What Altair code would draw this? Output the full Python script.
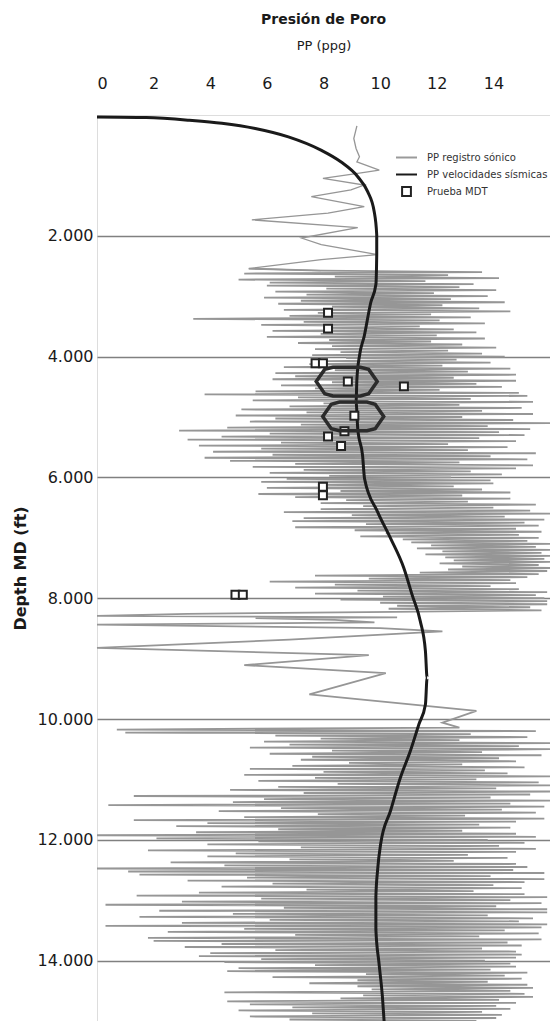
import altair as alt
import pandas as pd

# ---------------- data ----------------
# PP registro sónico : upper, smooth part (depth ft, PP ppg)
sonic_top_depth = [181, 389, 554, 692, 775, 911, 966, 1048, 1159, 1241, 1352, 1516,
                   1625, 1736, 1863, 2037, 2148, 2312, 2395, 2543]
sonic_top_pp = [9.18, 9.07, 9.15, 9.27, 9.18, 9.97, 9.21, 7.98, 9.44, 8.97, 7.57, 9.44,
                8.16, 5.47, 9.21, 7.22, 7.92, 9.91, 7.92, 5.36]

# noisy log section A, one reading every 25 ft from 2575 ft
sonic_step = 25
sonic_a_start = 2575
sonic_a_pp = [
    7.9, 13.6, 5.2, 12.4, 8.4, 14.2, 5.0, 11.6, 6.1, 13.3,
    6.0, 12.8, 8.1, 14.1, 6.3, 11.9, 7.4, 13.8, 5.9, 12.5,
    7.2, 14.4, 6.4, 12.2, 8.3, 13.5, 6.6, 14.6, 7.8, 11.8,
    6.8, 13.2, 3.4, 12.1, 7.3, 13.7, 5.8, 11.4, 8.0, 12.6,
    6.2, 13.4, 7.9, 12.0, 6.0, 13.7, 8.2, 11.8, 7.1, 12.9,
    8.3, 14.1, 7.7, 12.4, 8.6, 13.6, 7.6, 14.4, 8.8, 12.7,
    8.1, 13.9, 7.5, 12.2, 6.6, 14.6, 8.4, 13.1, 6.3, 14.8,
    7.0, 12.6, 6.2, 14.8, 8.3, 13.4, 6.5, 14.3, 7.7, 12.1,
    5.6, 14.9, 3.8, 15.2, 7.1, 13.2, 5.5, 15.4, 8.0, 12.8,
    6.8, 15.0, 5.1, 13.6, 7.4, 15.4, 4.9, 12.9, 6.3, 14.7,
    5.4, 16.0, 7.2, 13.8, 4.6, 15.3, 2.9, 14.2, 6.1, 15.1,
    4.4, 13.5, 3.2, 14.8, 6.5, 12.4, 3.6, 14.5, 5.8, 13.1,
    4.1, 15.5, 6.2, 13.9, 3.8, 15.2, 4.7, 12.8, 7.0, 15.4,
    5.5, 14.8, 7.3, 13.2, 6.1, 14.3, 8.2, 12.5, 6.7, 13.9,
    5.8, 14.0, 7.8, 12.6, 6.0, 13.6, 8.6, 14.6, 5.7, 12.9,
    7.0, 14.6, 8.8, 13.1, 7.9, 15.5, 9.4, 14.0, 7.9, 15.3,
    6.6, 16.0, 9.0, 14.4, 7.3, 15.8, 6.9, 15.1, 9.5, 15.6,
    7.0, 14.8, 9.1, 15.7, 10.2, 14.9, 9.3, 15.6, 10.8, 15.2,
    11.1, 16.0, 11.8, 15.5, 11.3, 16.0, 12.2, 15.7, 11.6, 16.0,
    12.3, 15.8, 12.6, 16.0, 12.1, 15.6, 12.9, 16.0, 12.4, 15.9,
    11.4, 15.6, 7.7, 15.2, 9.6, 14.6, 6.1, 14.8, 8.4, 13.9,
    7.0, 14.9, 9.2, 15.9, 7.7, 15.5, 10.1, 15.8, 8.6, 15.9,
    10.0, 15.9, 10.6, 15.3, 10.3, 15.7,
]

# quieter middle part (depth ft, PP ppg)
sonic_mid_depth = [8225, 8260, 8291, 8317, 8330, 8360, 8400, 8439, 8494, 8548, 8686,
                   8823, 8944, 9108, 9239, 9593, 9867, 10060, 10142]
sonic_mid_pp = [10.5, 3.2, 0.0, 10.6, 5.6, 8.4, 9.8, 0.0, 10.0, 12.2, 6.8,
                0.0, 9.6, 5.2, 10.2, 7.5, 13.4, 12.2, 12.8]

# noisy log section B, one reading every 25 ft from 10175 ft
sonic_b_start = 10175
sonic_b_pp = [
    0.7, 15.5, 1.0, 13.2, 6.3, 15.2, 7.9, 12.8, 5.9, 16.0,
    6.8, 14.9, 5.4, 16.0, 8.3, 13.6, 6.1, 15.7, 7.6, 14.2,
    7.2, 14.8, 8.9, 12.9, 6.9, 15.1, 5.4, 13.7, 8.0, 14.5,
    5.2, 16.0, 7.7, 13.4, 5.7, 15.6, 8.5, 16.0, 6.4, 14.1,
    4.7, 16.0, 7.3, 15.3, 1.3, 13.9, 5.9, 16.0, 4.8, 14.6,
    0.4, 15.8, 6.5, 14.3, 4.3, 15.5, 7.8, 13.0, 5.2, 15.8,
    1.3, 14.8, 3.9, 13.5, 2.8, 14.6, 6.4, 12.9, 3.5, 14.8,
    0.0, 15.5, 2.1, 13.8, 5.7, 15.1, 3.9, 14.2, 7.2, 15.5,
    1.8, 14.8, 4.9, 13.1, 3.9, 14.5, 6.8, 12.6, 2.6, 14.8,
    4.5, 15.2, 0.0, 14.7, 1.1, 15.8, 1.5, 13.9, 5.3, 15.8,
    3.2, 15.1, 6.2, 14.0, 4.4, 15.0, 7.4, 13.3, 3.6, 15.1,
    1.4, 15.9, 5.8, 14.6, 3.0, 15.7, 0.3, 14.1, 6.6, 15.9,
    2.2, 15.9, 4.8, 13.8, 1.5, 15.4, 6.1, 14.9, 3.0, 15.9,
    0.3, 15.7, 5.2, 14.4, 2.5, 15.6, 7.0, 13.5, 1.8, 15.7,
    2.0, 14.5, 4.4, 15.0, 3.1, 13.6, 6.3, 14.8, 4.0, 15.0,
    3.6, 14.8, 5.8, 13.7, 4.5, 14.6, 7.7, 14.8, 5.0, 13.9,
    4.6, 15.2, 9.5, 14.4, 6.2, 15.0, 9.2, 13.8, 7.5, 15.2,
    9.2, 15.4, 9.7, 14.6, 4.5, 15.1, 9.4, 15.4, 8.6, 14.2,
    4.6, 14.8, 5.4, 14.1, 6.9, 14.6, 5.0, 13.6, 7.6, 14.3,
    5.4, 14.1, 6.8, 13.4,
]

# PP velocidades sísmicas (smooth trend)
seis_depth = [33, 43, 87, 137, 224, 363, 582, 775, 1022, 1269, 1599, 1983, 2312, 2807,
              3104, 3659, 3989, 4373, 4752, 5197, 5637, 6021, 6570, 7010, 7505, 7945,
              8383, 8878, 9318, 9758, 10087, 10526, 10966, 11515, 12065, 12504, 12944,
              13488, 14043, 14592, 15000]
seis_pp = [0.0, 1.74, 3.26, 4.41, 5.59, 6.76, 7.91, 8.61, 9.21, 9.56, 9.79, 9.88, 9.88,
           9.85, 9.67, 9.44, 9.27, 9.18, 9.15, 9.21, 9.38, 9.45, 9.91, 10.37, 10.84,
           11.13, 11.42, 11.60, 11.66, 11.60, 11.37, 11.07, 10.72, 10.37, 10.02, 9.91,
           9.85, 9.85, 9.96, 10.08, 10.14]

# Prueba MDT
mdt_depth = [3273, 3537, 4109, 4109, 4411, 4493, 4978, 5235, 5324, 5482, 6153, 6296,
             7944, 7944]
mdt_pp = [8.16, 8.16, 7.72, 7.98, 8.86, 10.84, 9.09, 8.74, 8.16, 8.62, 7.98, 7.98,
          4.89, 5.15]

# highlighted tests (ellipses)
ring_depth = [4414, 4991]
ring_pp = [8.82, 9.05]

series_names = ["PP registro sónico", "PP velocidades sísmicas", "Prueba MDT"]
x_ticks = [0, 2, 4, 6, 8, 10, 12, 14]
y_ticks = [2000, 4000, 6000, 8000, 10000, 12000, 14000]

# ---------------- build tables ----------------
top_df = pd.DataFrame({"depth": sonic_top_depth + [sonic_a_start],
                       "pp": sonic_top_pp + [sonic_a_pp[0]]})

s_depth = [sonic_top_depth[-1]]
s_pp = [sonic_top_pp[-1]]
s_depth += [sonic_a_start + i * sonic_step for i in range(len(sonic_a_pp))]
s_pp += sonic_a_pp
s_depth += sonic_mid_depth
s_pp += sonic_mid_pp
s_depth += [sonic_b_start + i * sonic_step for i in range(len(sonic_b_pp))]
s_pp += sonic_b_pp

sonic_df = pd.DataFrame({"depth": s_depth, "pp": s_pp})
seis_df = pd.DataFrame({"depth": seis_depth, "pp": seis_pp})
mdt_df = pd.DataFrame({"depth": mdt_depth, "pp": mdt_pp, "serie": "Prueba MDT"})
ring_df = pd.DataFrame({"depth": ring_depth, "pp": ring_pp})

FONT = "DejaVu Sans"

x_scale = alt.Scale(domain=[0, 16], nice=False, zero=False)
y_scale = alt.Scale(domain=[0, 15000], reverse=True, nice=False, zero=False)

x_enc = alt.X(
    "pp:Q", scale=x_scale,
    axis=alt.Axis(orient="top", values=x_ticks, title="PP (ppg)", grid=False,
                  ticks=False, domain=False, labelFontSize=16, labelFont=FONT,
                  labelColor="#1a1a1a", labelPadding=24, titleFont=FONT,
                  titleFontSize=13, titleFontWeight="normal", titleColor="#1a1a1a",
                  titlePadding=23),
)
y_enc = alt.Y(
    "depth:Q", scale=y_scale,
    axis=alt.Axis(orient="left", values=y_ticks, title="Depth MD (ft)", grid=True,
                  gridColor="#808080", gridWidth=1.7, ticks=False, domain=False,
                  labelFontSize=16, labelFont=FONT, labelColor="#1a1a1a", labelPadding=4,
                  labelExpr="replace(format(datum.value, ','), ',', '.')",
                  titleFont=FONT, titleFontSize=16, titleFontWeight="bold",
                  titleColor="#1a1a1a", titlePadding=9),
)

square_path = "M-0.42,-0.42H0.42V0.42H-0.42Z"
ring_path = ("M-1,0L-0.72,-0.4L-0.45,-0.47L0.45,-0.47L0.72,-0.4L1,0L0.72,0.4"
             "L0.45,0.47L-0.45,0.47L-0.72,0.4Z")

legend = alt.Legend(orient="none", legendX=298, legendY=31, title=None, padding=0,
                    symbolSize=441, symbolStrokeWidth=2, labelFont=FONT,
                    labelFontSize=10, labelColor="#333333", labelOffset=9,
                    rowPadding=-2, fillColor="white")
color_scale = alt.Scale(domain=series_names, range=["#9a9a9a", "#1a1a1a", "#222222"])
shape_scale = alt.Scale(domain=series_names, range=["stroke", "stroke", square_path])

sonic_top = alt.Chart(top_df).mark_line(color="#969696", strokeWidth=1.3).encode(
    x=x_enc, y=y_enc, order=alt.Order("depth:Q"))
sonic = alt.Chart(sonic_df).mark_line(color="#969696", strokeWidth=1.8).encode(
    x=x_enc, y=y_enc, order=alt.Order("depth:Q"))
seis = alt.Chart(seis_df).mark_line(color="#1a1a1a", strokeWidth=3,
                                    interpolate="monotone").encode(
    x=x_enc, y=y_enc, order=alt.Order("depth:Q"))
mdt = alt.Chart(mdt_df).mark_point(size=361, filled=False, fill="white", fillOpacity=1,
                                   strokeWidth=2, opacity=1).encode(
    x=x_enc, y=y_enc,
    color=alt.Color("serie:N", scale=color_scale, legend=legend),
    shape=alt.Shape("serie:N", scale=shape_scale, legend=legend),
)
rings = alt.Chart(ring_df).mark_point(shape=ring_path, size=3721, filled=False,
                                      color="#2b2b2b", strokeWidth=3.5, opacity=1).encode(
    x=x_enc, y=y_enc)

chart = (
    alt.layer(sonic_top, sonic, seis, mdt, rings)
    .properties(
        width=453, height=906,
        title=alt.Title("Presión de Poro", font=FONT, fontSize=14, fontWeight="bold",
                        color="#1a1a1a", anchor="middle", offset=12),
        autosize=alt.AutoSizeParams(type="none"),
        padding={"left": 89, "top": 107, "right": 0, "bottom": 0},
    )
    .configure_view(stroke="#9a9a9a", strokeWidth=1.5)
    .configure(background="white")
)

chart.save("out.html", embed_options={"renderer": "svg", "actions": False})
